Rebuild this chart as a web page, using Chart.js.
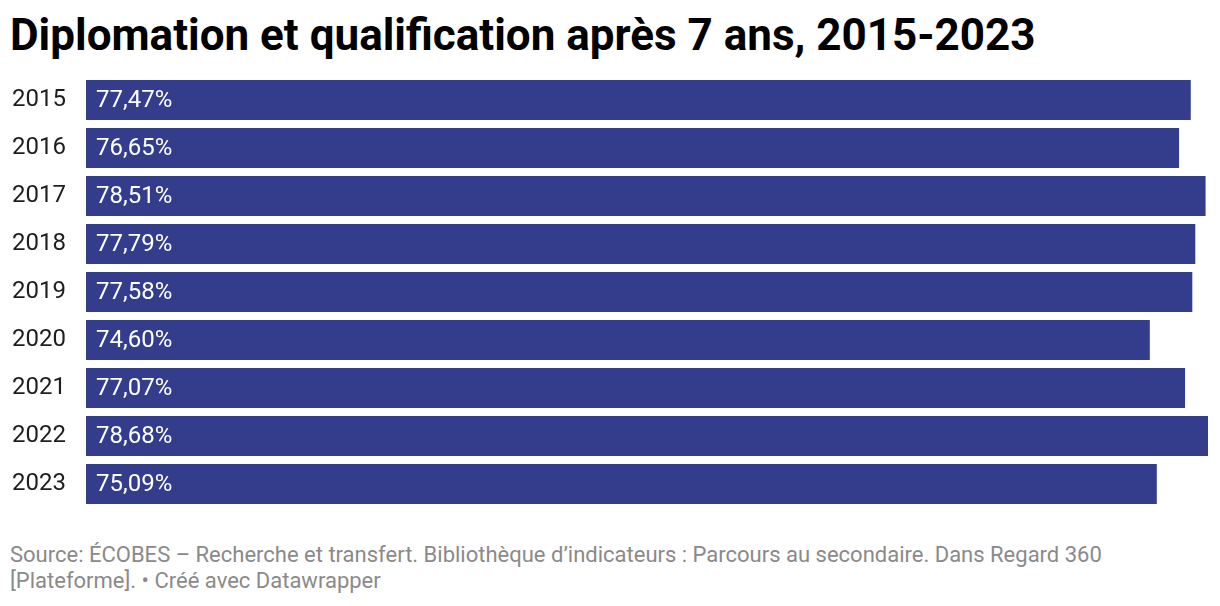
<!DOCTYPE html>
<html>
<head>
<meta charset="utf-8">
<script src="https://cdn.jsdelivr.net/npm/chart.js@4"></script>
<style>
  html, body { margin: 0; padding: 0; background: #fff; }
  body { width: 1220px; height: 606px; position: relative; overflow: hidden; font-family: Roboto, sans-serif; }
  #title { position: absolute; left: 10px; top: 8px; font-size: 44px; line-height: 54px; font-weight: 700; color: #000; white-space: nowrap; }
  #wrap { position: absolute; left: 0; top: 76px; width: 1220px; height: 432px; }
  #footer { position: absolute; left: 10px; top: 542px; font-size: 22px; line-height: 26px; color: #8a8a8a; width: 1205px; white-space: nowrap; }
</style>
</head>
<body>
<div id="title">Diplomation et qualification après 7 ans, 2015-2023</div>
<div id="wrap"><canvas id="c"></canvas></div>
<div id="footer">Source: ÉCOBES – Recherche et transfert. Bibliothèque d’indicateurs : Parcours au secondaire. Dans Regard 360<br>[Plateforme]. • Créé avec Datawrapper</div>
<script>
const years = ["2015","2016","2017","2018","2019","2020","2021","2022","2023"];
const values = [77.47, 76.65, 78.51, 77.79, 77.58, 74.60, 77.07, 78.68, 75.09];
const valueLabels = ["77,47%","76,65%","78,51%","77,79%","77,58%","74,60%","77,07%","78,68%","75,09%"];

const barText = {
  id: 'barText',
  afterDatasetsDraw(chart) {
    const ctx = chart.ctx;
    const meta = chart.getDatasetMeta(0);
    ctx.save();
    ctx.font = '24px Roboto';
    ctx.fillStyle = '#ffffff';
    ctx.textAlign = 'left';
    ctx.textBaseline = 'middle';
    meta.data.forEach((bar, i) => {
      ctx.fillText(valueLabels[i], bar.base + 10, bar.y + 1);
    });
    ctx.restore();
  }
};

new Chart(document.getElementById('c'), {
  type: 'bar',
  data: {
    labels: years,
    datasets: [{
      data: values,
      backgroundColor: '#333d8c',
      borderWidth: 0,
      categoryPercentage: 1,
      barPercentage: 40/48
    }]
  },
  options: {
    indexAxis: 'y',
    responsive: true,
    maintainAspectRatio: false,
    animation: false,
    layout: { padding: { left: 12, right: 12, top: 0, bottom: 0 } },
    plugins: { legend: { display: false }, tooltip: { enabled: false } },
    scales: {
      x: { display: false, min: 0, max: 78.68 },
      y: {
        grid: { display: false },
        border: { display: false },
        afterFit(scale) { scale.width = 74; scale.paddingTop = 0; scale.paddingBottom = 0; },
        ticks: {
          crossAlign: 'far',
          padding: 0,
          color: '#1d1d1d',
          font: { family: 'Roboto', size: 24 }
        }
      }
    }
  },
  plugins: [barText]
});
</script>
</body>
</html>
